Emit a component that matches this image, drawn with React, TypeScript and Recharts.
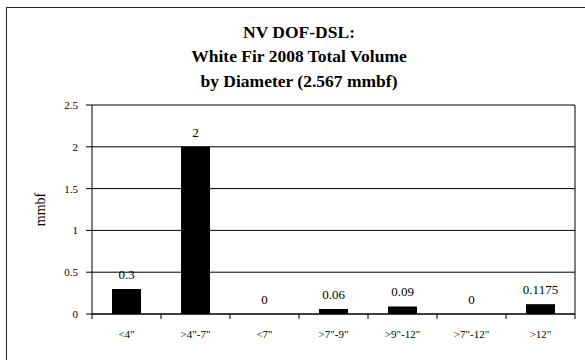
import { ComposedChart, Bar, Line, XAxis, YAxis, CartesianGrid, LabelList } from 'recharts';

// White Fir 2008 total volume by diameter class (mmbf)
const diameterClasses = ['<4"', '>4"-7"', '<7"', '>7"-9"', '>9"-12"', '>7"-12"', '>12"'];
const volumes = [0.3, 2, 0, 0.06, 0.09, 0, 0.1175];
const yTicks = [0, 0.5, 1, 1.5, 2, 2.5];
const titleLines = ['NV DOF-DSL:', 'White Fir 2008 Total Volume', 'by Diameter (2.567 mmbf)'];

const data = diameterClasses.map((cls, i) => ({ cls, volume: volumes[i] }));

const serif = "'Liberation Serif', 'Times New Roman', serif";

// category tick: label centred, tick marks on the band edges
function BandTick(props: any) {
  const { x, y, payload, index, visibleTicksCount } = props;
  const half = payload?.offset ?? 483 / 7 / 2;
  const isLast = index === (visibleTicksCount ?? diameterClasses.length) - 1;
  return (
    <g>
      <line x1={x - half} y1={y} x2={x - half} y2={y + 5} stroke="#000" />
      {isLast && <line x1={x + half} y1={y} x2={x + half} y2={y + 5} stroke="#000" />}
      <text x={x} y={y + 24} textAnchor="middle" fontSize={11} fontFamily={serif} fill="#000">
        {payload.value}
      </text>
    </g>
  );
}

// value labels (drawn off an invisible line so the zeros show too)
function ValueLabel(props: any) {
  const { x, y, value } = props;
  return (
    <text x={x} y={Number(y) - 10} textAnchor="middle" fontSize={13} fontFamily={serif} fill="#000">
      {String(value)}
    </text>
  );
}

export default function App() {
  return (
    <div
      style={{
        position: 'absolute',
        left: 0,
        top: 0,
        width: 585,
        height: 360,
        overflow: 'hidden',
        background: '#fff',
      }}
    >
      <div
        style={{
          position: 'absolute',
          left: 6,
          top: 7,
          width: 620,
          height: 400,
          border: '1.5px solid #222',
        }}
      />
      <div
        style={{
          position: 'absolute',
          left: 12,
          width: 574,
          top: 19.5,
          textAlign: 'center',
          fontFamily: serif,
          fontWeight: 'bold',
          fontSize: 17.5,
          lineHeight: '24.5px',
          color: '#000',
        }}
      >
        {titleLines.map((t) => (
          <div key={t}>{t}</div>
        ))}
      </div>
      <ComposedChart
        width={585}
        height={360}
        data={data}
        margin={{ top: 105, right: 10, bottom: 16, left: 0 }}
        barCategoryGap="29%"
        style={{ position: 'absolute', left: 0, top: 0 }}
      >
        <CartesianGrid
          stroke="#000"
          verticalCoordinatesGenerator={({ offset }: any) => [offset.left + offset.width]}
        />
        <XAxis
          dataKey="cls"
          interval={0}
          height={30}
          tickSize={0}
          tickMargin={0}
          axisLine={{ stroke: '#000' }}
          tickLine={false}
          tick={<BandTick />}
        />
        <YAxis
          width={92}
          domain={[0, 2.5]}
          ticks={yTicks}
          tickSize={6}
          tickMargin={8}
          axisLine={{ stroke: '#000' }}
          tickLine={{ stroke: '#000' }}
          tick={{ fontSize: 11, fontFamily: serif, fill: '#000' }}
          label={{
            value: 'mmbf',
            angle: -90,
            position: 'insideLeft',
            offset: 40,
            style: { textAnchor: 'middle', fontSize: 14, fontFamily: serif, fill: '#000' },
          }}
        />
        <Bar dataKey="volume" fill="#000" isAnimationActive={false} />
        <Line
          dataKey="volume"
          stroke="none"
          dot={false}
          activeDot={false}
          legendType="none"
          isAnimationActive={false}
        >
          <LabelList dataKey="volume" content={<ValueLabel />} />
        </Line>
      </ComposedChart>
    </div>
  );
}
